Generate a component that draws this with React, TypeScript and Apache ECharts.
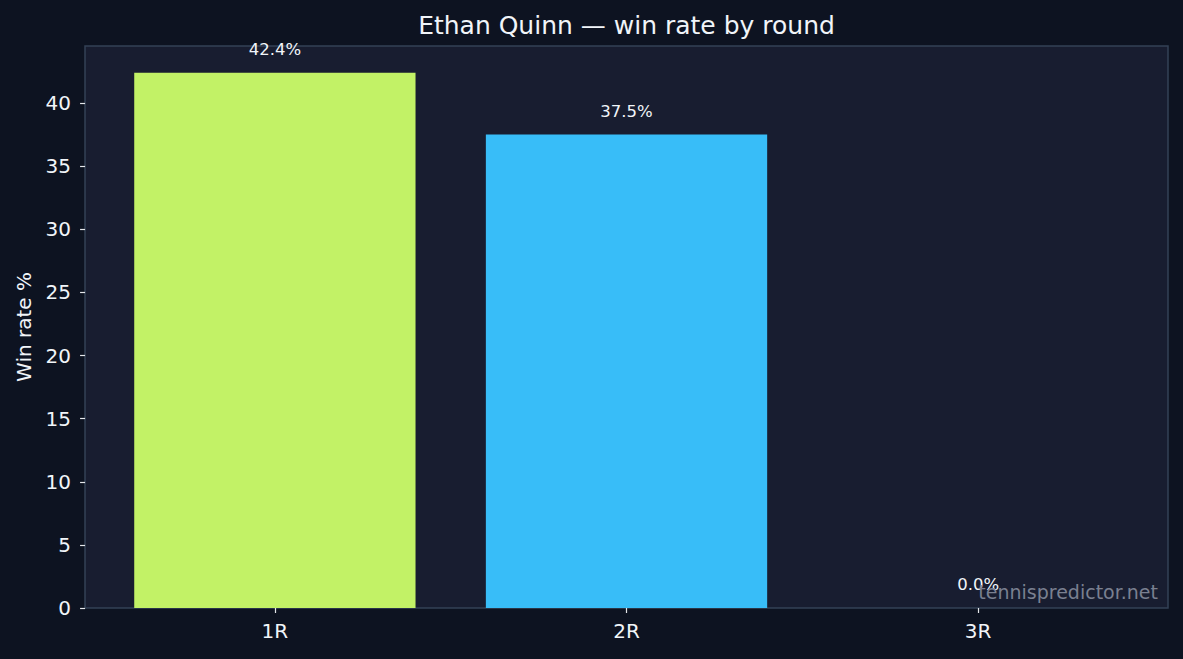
import React, { useEffect, useRef } from "react";
import * as echarts from "echarts";

const categories = ["1R", "2R", "3R"];
const winRates = [42.4, 37.5, 0.0];
const barColors = ["#c2f266", "#38bdf8", "#a78bfa"];
const yTicks = [0, 5, 10, 15, 20, 25, 30, 35, 40];
const yMax = 44.52;
const titleText = "Ethan Quinn — win rate by round";
const yAxisName = "Win rate %";
const watermark = "tennispredictor.net";

const FONT = "DejaVu Sans";

export default function App() {
  const ref = useRef<HTMLDivElement>(null);
  useEffect(() => {
    if (!ref.current) return;
    const chart = echarts.init(ref.current, null, { renderer: "svg" });
    const option: any = {
      animation: false,
      backgroundColor: "#0d1321",
      textStyle: { fontFamily: FONT },
      grid: [
        {
          left: 85, right: 15, top: 46, bottom: 51,
          show: true, backgroundColor: "#181d30", borderColor: "#334155", borderWidth: 1.5,
        },
        { left: 99.06, right: 29.04, top: 46, bottom: 51 },
      ],
      xAxis: [
        { gridIndex: 0, type: "value", show: false, min: 0, max: 1 },
        {
          gridIndex: 1,
          type: "category",
          data: categories,
          axisLine: { show: false },
          axisTick: { show: true, alignWithLabel: true, length: 5, lineStyle: { color: "#e5e7eb", width: 1.2 } },
          axisLabel: { color: "#f1f5f9", fontSize: 20, margin: 13, fontFamily: FONT },
          splitLine: { show: false },
        },
      ],
      yAxis: [
        { gridIndex: 0, type: "value", show: false, min: 0, max: 1 },
        {
          gridIndex: 1,
          type: "value",
          min: 0,
          max: yMax,
          offset: 14,
          name: yAxisName,
          nameLocation: "middle",
          nameGap: 51,
          nameTextStyle: { color: "#f1f5f9", fontSize: 20, fontFamily: FONT },
          axisLine: { show: false },
          axisTick: { show: true, length: 5, customValues: yTicks, lineStyle: { color: "#e5e7eb", width: 1.2 } },
          axisLabel: { color: "#f1f5f9", fontSize: 20, margin: 14, customValues: yTicks, fontFamily: FONT },
          splitLine: { show: false },
        },
      ],
      series: [
        {
          type: "bar",
          xAxisIndex: 1,
          yAxisIndex: 1,
          barWidth: "80%",
          data: winRates.map((v, i) => ({ value: v, itemStyle: { color: barColors[i] } })),
          label: {
            show: true,
            position: "top",
            distance: 15,
            color: "#f1f5f9",
            fontSize: 16.5,
            fontFamily: FONT,
            formatter: (p: any) => `${Number(p.value).toFixed(1)}%`,
          },
        },
      ],
      graphic: [
        {
          type: "text",
          x: 626.5,
          y: 25,
          z: 100,
          style: {
            text: titleText,
            fill: "#f1f5f9",
            font: `25px '${FONT}'`,
            align: "center",
            verticalAlign: "middle",
          },
        },
        {
          type: "text",
          right: 25,
          top: 582,
          z: 100,
          style: { text: watermark, fill: "#7a8090", font: `19px '${FONT}'` },
        },
      ],
    };
    chart.setOption(option);
    return () => chart.dispose();
  }, []);
  return <div ref={ref} style={{ position: "fixed", left: 0, top: 0, width: 1183, height: 659 }} />;
}
